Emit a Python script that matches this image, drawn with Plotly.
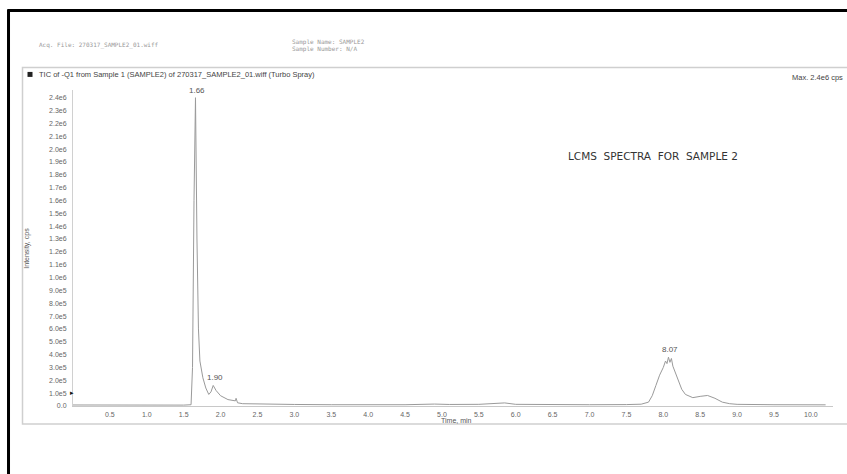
import plotly.graph_objects as go

# Chromatogram trace (Time, min ; Intensity, cps)
time_min = [0.00, 0.30, 0.50, 0.80, 1.00, 1.30, 1.50, 1.60, 1.62, 1.64, 1.66, 1.68, 1.70,
            1.72, 1.76, 1.80, 1.84, 1.87, 1.90, 1.94, 2.00, 2.10, 2.20, 2.21, 2.23,
            2.30, 2.50, 3.00, 3.50, 4.00, 4.50, 4.90, 5.00, 5.10, 5.50, 5.70, 5.85,
            6.00, 6.50, 7.00, 7.50, 7.70, 7.80, 7.85, 7.90, 7.95, 8.00, 8.03, 8.05,
            8.07, 8.09, 8.11, 8.13, 8.15, 8.20, 8.25, 8.30, 8.40, 8.50, 8.60, 8.70,
            8.80, 8.90, 9.00, 9.50, 10.00, 10.20]
intensity = [8e3, 7e3, 6e3, 6e3, 6e3, 6e3, 7e3, 1.0e4, 3.0e5, 1.6e6, 2.4e6, 1.3e6, 6.0e5,
             3.5e5, 2.2e5, 1.4e5, 9.0e4, 1.1e5, 1.6e5, 1.2e5, 8.0e4, 5.0e4, 4.0e4, 6.0e4, 2.5e4,
             1.8e4, 1.5e4, 1.2e4, 1.0e4, 9.0e3, 1.0e4, 1.5e4, 1.6e4, 1.2e4, 1.3e4, 2.2e4, 2.4e4,
             1.3e4, 1.0e4, 1.0e4, 1.1e4, 1.4e4, 3.0e4, 8.0e4, 1.6e5, 2.4e5, 3.0e5, 3.5e5, 3.3e5,
             3.8e5, 3.4e5, 3.7e5, 3.1e5, 2.8e5, 2.0e5, 1.3e5, 9.0e4, 6.5e4, 7.5e4, 8.2e4, 6.0e4,
             3.0e4, 1.8e4, 1.3e4, 1.0e4, 1.0e4, 9.0e3]

# Peak labels
peak_times = [1.66, 1.90, 8.07]
peak_heights = [2.4e6, 1.6e5, 3.8e5]
peak_labels = ["1.66", "1.90", "8.07"]

# Axis ticks
x_tick_vals = [0.5, 1.0, 1.5, 2.0, 2.5, 3.0, 3.5, 4.0, 4.5, 5.0, 5.5, 6.0, 6.5, 7.0, 7.5,
               8.0, 8.5, 9.0, 9.5, 10.0]
x_tick_text = ["0.5", "1.0", "1.5", "2.0", "2.5", "3.0", "3.5", "4.0", "4.5", "5.0", "5.5",
               "6.0", "6.5", "7.0", "7.5", "8.0", "8.5", "9.0", "9.5", "10.0"]
y_tick_vals = [0, 1e5, 2e5, 3e5, 4e5, 5e5, 6e5, 7e5, 8e5, 9e5, 1.0e6, 1.1e6, 1.2e6, 1.3e6,
               1.4e6, 1.5e6, 1.6e6, 1.7e6, 1.8e6, 1.9e6, 2.0e6, 2.1e6, 2.2e6, 2.3e6, 2.4e6]
y_tick_text = ["0.0", "1.0e5", "2.0e5", "3.0e5", "4.0e5", "5.0e5", "6.0e5", "7.0e5", "8.0e5",
               "9.0e5", "1.0e6", "1.1e6", "1.2e6", "1.3e6", "1.4e6", "1.5e6", "1.6e6", "1.7e6",
               "1.8e6", "1.9e6", "2.0e6", "2.1e6", "2.2e6", "2.3e6", "2.4e6"]

W, H = 847, 474
ML, MR, MT, MB = 72.5, 14.4, 89.6, 68.0
PW, PH = W - ML - MR, H - MT - MB


def px(x):
    return (x - ML) / PW


def py(y):
    return (H - MB - y) / PH


FONT = "Liberation Sans, Arial, sans-serif"

fig = go.Figure()
fig.add_trace(go.Scatter(x=time_min, y=intensity, mode="lines",
                         line=dict(color="#9a9a9a", width=1), hoverinfo="skip",
                         showlegend=False))

for t, h, lab in zip(peak_times, peak_heights, peak_labels):
    fig.add_annotation(x=t, y=h, xref="x", yref="y", text=lab, showarrow=False,
                       yanchor="bottom", yshift=1, xshift=2,
                       font=dict(family=FONT, size=8, color="#555"))

shapes = [
    # outer black border
    dict(type="line", xref="paper", yref="paper", x0=px(7), x1=px(850), y0=py(10), y1=py(10),
         line=dict(color="black", width=3)),
    dict(type="line", xref="paper", yref="paper", x0=px(8), x1=px(8), y0=py(9), y1=py(476),
         line=dict(color="black", width=3)),
    # inner light frame
    dict(type="rect", xref="paper", yref="paper", x0=px(22), x1=px(852), y0=py(67), y1=py(424),
         line=dict(color="#cfcfcf", width=1.5)),
    # small square marker in header
    dict(type="rect", xref="paper", yref="paper", x0=px(27), x1=px(32), y0=py(71.5), y1=py(76.5),
         line=dict(width=0), fillcolor="#222"),
]

texts = [
    (36, 45, "Acq. File: 270317_SAMPLE2_01.wiff", "left", 6, "#999", "DejaVu Sans Mono"),
    (290, 42, "Sample Name: SAMPLE2", "left", 6, "#999", "DejaVu Sans Mono"),
    (290, 49, "Sample Number: N/A", "left", 6, "#999", "DejaVu Sans Mono"),
    (36, 74, "TIC of -Q1 from Sample 1 (SAMPLE2) of 270317_SAMPLE2_01.wiff (Turbo Spray)",
     "left", 7.5, "#444", FONT),
    (845, 77, "Max. 2.4e6 cps", "right", 7.5, "#444", FONT),
    (456, 421, "Time, min", "center", 7, "#555", FONT),
    (566, 156, "LCMS&nbsp;&nbsp;SPECTRA&nbsp;&nbsp;FOR&nbsp;&nbsp;SAMPLE&nbsp;2", "left", 10.5,
     "#333", "DejaVu Sans, sans-serif"),
    (71, 392, "▸", "center", 7, "#111", FONT),
]
for x, y, t, anc, sz, col, fam in texts:
    fig.add_annotation(x=px(x), y=py(y), xref="paper", yref="paper", text=t,
                       showarrow=False, xanchor=anc, yanchor="middle",
                       font=dict(family=fam, size=sz, color=col))

fig.add_annotation(x=px(27), y=py(248), xref="paper", yref="paper", text="Intensity, cps",
                   showarrow=False, textangle=-90, xanchor="center", yanchor="middle",
                   font=dict(family=FONT, size=7, color="#555"))

fig.update_layout(
    width=W, height=H,
    margin=dict(l=ML, r=MR, t=MT, b=MB, pad=0),
    paper_bgcolor="white", plot_bgcolor="white",
    shapes=shapes,
    xaxis=dict(range=[0, 10.3], tickvals=x_tick_vals, ticktext=x_tick_text,
               showgrid=False, zeroline=False, showline=True, linecolor="#c8c8c8",
               linewidth=1, ticks="outside", ticklen=2, tickcolor="rgba(0,0,0,0)",
               tickfont=dict(family=FONT, size=7, color="#666")),
    yaxis=dict(range=[0, 2.46e6], tickvals=y_tick_vals, ticktext=y_tick_text,
               showgrid=False, zeroline=False, showline=True, linecolor="#d0d0d0",
               linewidth=1, ticks="outside", ticklen=4, tickcolor="rgba(0,0,0,0)",
               tickfont=dict(family=FONT, size=7, color="#666")),
)

fig.write_html("out.html", config={"displayModeBar": False},
               post_script="document.body.style.margin='0px';")
